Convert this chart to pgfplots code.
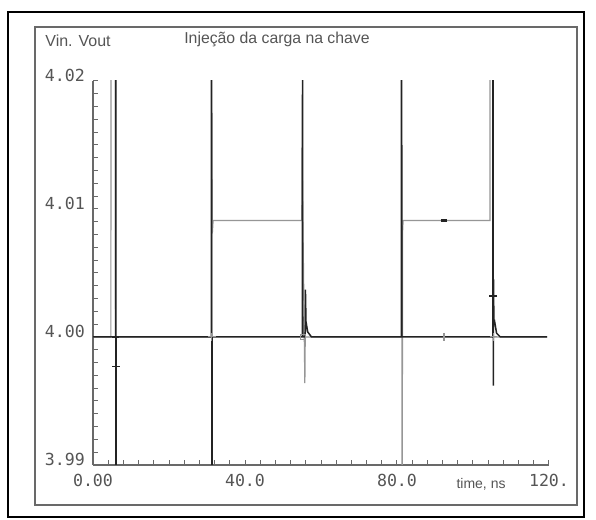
\documentclass[border=0pt]{standalone}
\usepackage{fontspec}
\setmainfont{Liberation Sans}
\newfontfamily\monof{DejaVu Sans Mono}
\usepackage{pgfplots}
\pgfplotsset{compat=1.18}

\definecolor{vingray}{RGB}{150,150,150}
\definecolor{voutblk}{RGB}{35,35,35}
\definecolor{axgray}{RGB}{105,105,105}
\definecolor{lblgray}{RGB}{85,85,85}

% Vin (gray trace)
\pgfplotstableread{
t v
0 4.00
4.7 4.00
4.75 4.04
5.9 4.04
5.95 4.00
31.25 4.00
31.3 4.0175
31.4 4.0081
31.6 4.0091
54.95 4.0091
55.0 4.0148
55.75 3.9964
55.85 4.00
81.3 4.00
81.35 3.97
81.45 4.0081
81.6 4.0091
104.45 4.0091
104.5 4.04
105.2 4.04
105.25 4.00
119.5 4.00
}\vin

% Vout (black trace)
\pgfplotstableread{
t v
0 4.00
5.95 4.00
6.0 4.03
6.05 3.97
6.1 4.00
31.15 4.00
31.2 4.03
31.3 3.97
31.35 4.00
55.1 4.00
55.15 4.03
55.2 4.00
55.85 4.00
55.9 4.0037
56.05 4.0012
56.5 4.0004
57.5 4.00
81.15 4.00
81.2 4.03
81.3 4.00
105.2 4.00
105.25 4.03
105.35 3.9962
105.4 4.0045
105.5 4.0011
105.7 4.0012
106.2 4.0003
107.2 4.00
119.5 4.00
}\vout

\begin{document}
\begin{tikzpicture}[x=1pt,y=1pt]
\useasboundingbox (0,0) rectangle (298,260);
\fill[white] (0,0) rectangle (298,260);
\draw[black, line width=1.1pt] (4,1.5) rectangle (292,254);
\draw[axgray, line width=0.9pt] (17.5,7.5) rectangle (288.5,246.5);
\begin{axis}[
  at={(46.5pt,27.5pt)}, anchor=south west,
  scale only axis, width=228pt, height=192pt,
  xmin=0, xmax=120, ymin=3.99, ymax=4.02,
  axis lines*=left,
  axis line style={axgray, line width=0.9pt},
  xtick={0,40,80,120}, xticklabels={0.00,40.0,80.0,120.},
  ytick={3.99,4.00,4.01,4.02}, yticklabels={3.99,4.00,4.01,4.02},
  minor x tick num=9, minor y tick num=9,
  tick align=inside,
  major tick length=2.6pt, minor tick length=2.6pt,
  tick style={axgray, line width=0.5pt},
  ticklabel style={font=\monof\fontsize{8.3}{9}\selectfont, text=lblgray},
  yticklabel style={yshift=3pt, xshift=-0.5pt},
  xticklabel style={yshift=-1pt},
  title={Injeção da carga na chave},
  every axis title/.style={at={(rel axis cs:0.4035,1)}, anchor=center,
    yshift=21pt, font=\fontsize{7.9}{9}\selectfont, text=lblgray},
  ylabel={Vin. Vout},
  every axis y label/.style={at={(rel axis cs:0,1)}, anchor=center,
    xshift=-7.5pt, yshift=20pt, font=\fontsize{8}{9}\selectfont, text=lblgray},
  xlabel={time, ns},
  every axis x label/.style={at={(rel axis cs:0.851,0)}, anchor=center,
    yshift=-9.5pt, font=\fontsize{7}{8}\selectfont, text=lblgray},
]
\addplot[vingray, line width=0.6pt, mark=none] table[x=t,y=v] {\vin};
\addplot[voutblk, line width=0.75pt, mark=none] table[x=t,y=v] {\vout};
% trace markers
\addplot[voutblk, only marks, mark=-, mark size=2pt, mark options={line width=0.7pt}]
  coordinates {(6.0,3.9977) (105.3,4.0032)};
\addplot[voutblk, only marks, mark=-, mark size=1.5pt, mark options={line width=1.6pt}]
  coordinates {(92.4,4.0091)};
\addplot[voutblk, only marks, mark=+, mark size=1.8pt, mark options={line width=0.6pt}]
  coordinates {(5.9,4.00)};
\addplot[vingray, only marks, mark=|, mark size=2pt, mark options={line width=1pt}]
  coordinates {(92.4,4.00)};
\addplot[vingray, only marks, mark=square, mark size=1.3pt, mark options={line width=0.5pt}]
  coordinates {(55.2,4.00)};
\addplot[vingray, only marks, mark=+, mark size=1.8pt, mark options={line width=0.5pt}]
  coordinates {(105.4,4.00) (31.3,4.00)};
\end{axis}
\end{tikzpicture}
\end{document}
